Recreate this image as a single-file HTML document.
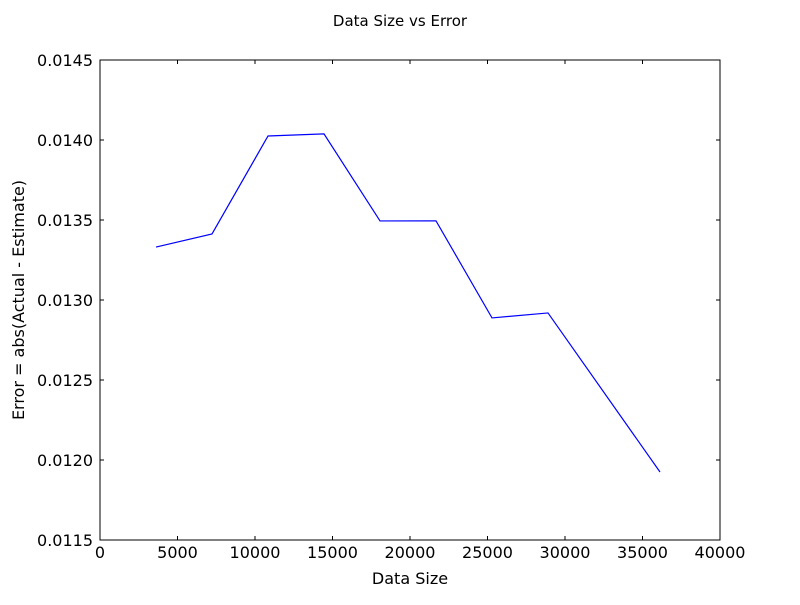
<!DOCTYPE html>
<html><head><meta charset="utf-8"><style>
body{margin:0;background:#fff;}
svg text{font-family:"DejaVu Sans","Liberation Sans",sans-serif;fill:#000;}
</style></head><body>
<svg id="chart" width="800" height="600" xmlns="http://www.w3.org/2000/svg">
<rect width="800" height="600" fill="#fff"/>
<text x="400" y="26" font-size="15" text-anchor="middle">Data Size vs Error</text>
<text x="410" y="584" font-size="16" text-anchor="middle">Data Size</text>
<text transform="translate(24,300) rotate(-90)" font-size="16" text-anchor="middle">Error = abs(Actual - Estimate)</text>
<g id="ticks"></g>
<polyline id="line" fill="none" stroke="#0000ff" stroke-width="1.2"/>
<rect x="100" y="60" width="620" height="480" fill="none" stroke="#000" stroke-width="1"/>
</svg>
<script>
const xValues=[3613,7226,10839,14452,18065,21677,25290,28903,36129];
const yValues=[0.013331,0.013413,0.014025,0.014038,0.013494,0.013495,0.012888,0.012919,0.011925];
const xTicks=[0,5000,10000,15000,20000,25000,30000,35000,40000];
const yTicks=[0.0115,0.012,0.0125,0.013,0.0135,0.014,0.0145];
const yTickLabels=["0.0115","0.0120","0.0125","0.0130","0.0135","0.0140","0.0145"];
const L=100,R=720,T=60,B=540;
const sx=v=>L+(v-0)/(40000-0)*(R-L);
const sy=v=>B-(v-0.0115)/(0.0145-0.0115)*(B-T);
const NS="http://www.w3.org/2000/svg";
const g=document.getElementById('ticks');
function ln(x1,y1,x2,y2){const l=document.createElementNS(NS,'line');l.setAttribute('x1',x1);l.setAttribute('y1',y1);l.setAttribute('x2',x2);l.setAttribute('y2',y2);l.setAttribute('stroke','#000');


g.appendChild(l);}
function tx(x,y,s,anchor,name){const t=document.createElementNS(NS,'text');t.setAttribute('x',x);t.setAttribute('y',y);t.setAttribute('font-size','16');t.setAttribute('text-anchor',anchor);t.textContent=s;


g.appendChild(t);}
xTicks.forEach(v=>{const x=sx(v);ln(x,B,x,B-4);ln(x,T,x,T+4);tx(x,B+18,String(v),'middle','x-tick-label');});
yTicks.forEach((v,i)=>{const y=sy(v);ln(L,y,L+4,y);ln(R,y,R-4,y);tx(L-7,y+6,yTickLabels[i],'end','y-tick-label');});
document.getElementById('line').setAttribute('points',xValues.map((v,i)=>sx(v)+','+sy(yValues[i])).join(' '));
</script>
</body></html>
